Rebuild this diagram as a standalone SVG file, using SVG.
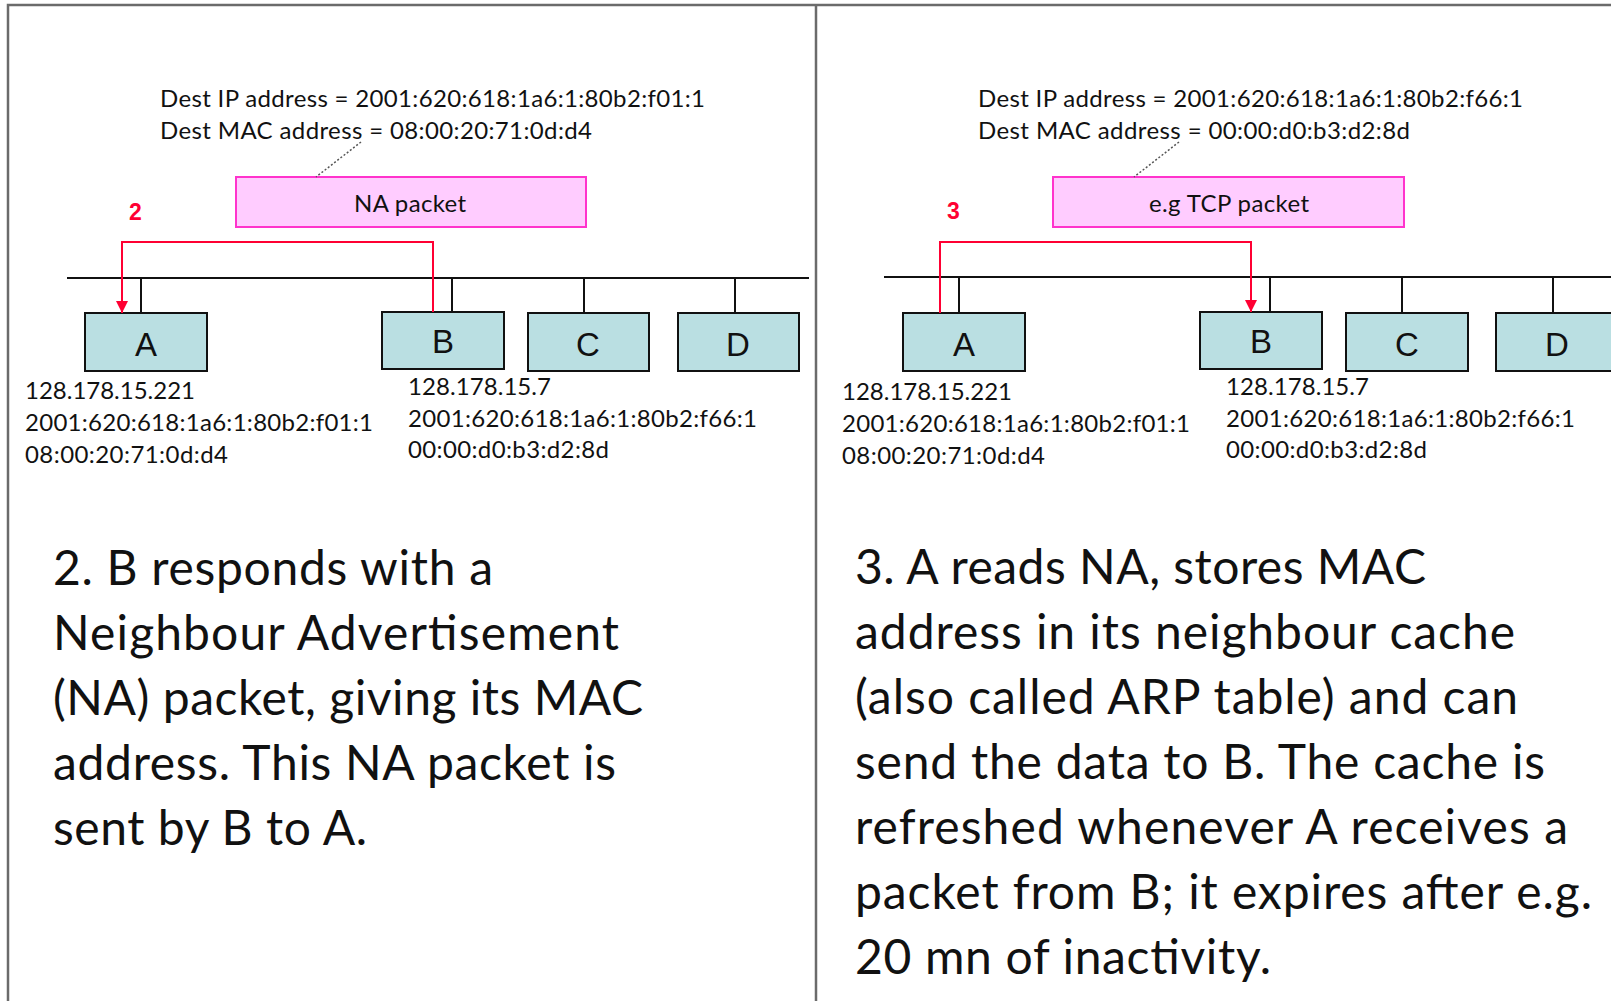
<svg xmlns="http://www.w3.org/2000/svg" width="1611" height="1001" viewBox="0 0 1611 1001">
<style>
.sm{font-family:Lato,"Open Sans","Liberation Sans",sans-serif;font-size:24px;fill:#111}
.big{font-family:Lato,"Open Sans","Liberation Sans",sans-serif;font-size:48px;fill:#111}
.lbl{font-family:"Liberation Sans",Arial,sans-serif;font-size:33px;fill:#111;text-anchor:middle}
.step{font-family:"Liberation Sans",Arial,sans-serif;font-size:23px;font-weight:bold;fill:#FF0033}
.host{fill:#BADFE2;stroke:#111;stroke-width:2}
.pkt{fill:#FFCCFF;stroke:#FF33CC;stroke-width:2}
.bus{stroke:#111;stroke-width:2;fill:none}
.red{stroke:#FF0033;stroke-width:2;fill:none}
.dot{stroke:#555;stroke-width:1.5;stroke-dasharray:2 2;fill:none}
.frame{stroke:#6b6b6b;stroke-width:2.5;fill:none}
</style>
<defs>
<marker id="arr" markerUnits="userSpaceOnUse" markerWidth="12" markerHeight="13" refX="12" refY="6" orient="auto" viewBox="0 0 12 12">
<path d="M0,0 L12,6 L0,12 z" fill="#FF0033"/>
</marker>
</defs>
<rect width="1611" height="1001" fill="#fff"/>
<g id="frame">
<path class="frame" d="M8 1001 V5 H1611"/>
<path class="frame" d="M816 5 V1001"/>
</g>

<!-- Left panel -->
<g id="left-header">
<text class="sm" x="160" y="107" textLength="545">Dest IP address = 2001:620:618:1a6:1:80b2:f01:1</text>
<text class="sm" x="160" y="139" textLength="432">Dest MAC address = 08:00:20:71:0d:d4</text>
</g>
<g id="left-packet">
<rect class="pkt" x="236" y="177" width="350" height="50"/>
<text class="sm" x="410" y="212" text-anchor="middle" textLength="112">NA packet</text>
</g>
<g id="left-step"><text class="step" x="129" y="220">2</text></g>
<g id="left-A">
<rect class="host" x="85" y="313" width="122" height="58"/>
<text class="lbl" x="146" y="356">A</text>
<text class="sm" x="25" y="399" textLength="170">128.178.15.221</text>
<text class="sm" x="25" y="431" textLength="348">2001:620:618:1a6:1:80b2:f01:1</text>
<text class="sm" x="25" y="463" textLength="203">08:00:20:71:0d:d4</text>
</g>
<g id="left-B">
<rect class="host" x="382" y="312" width="122" height="57"/>
<text class="lbl" x="443" y="353">B</text>
<text class="sm" x="408" y="395" textLength="143">128.178.15.7</text>
<text class="sm" x="408" y="427" textLength="349">2001:620:618:1a6:1:80b2:f66:1</text>
<text class="sm" x="408" y="458" textLength="201">00:00:d0:b3:d2:8d</text>
</g>
<g id="left-C">
<rect class="host" x="528" y="313" width="121" height="58"/>
<text class="lbl" x="588" y="356">C</text>
</g>
<g id="left-D">
<rect class="host" x="678" y="313" width="121" height="58"/>
<text class="lbl" x="738" y="356">D</text>
</g>
<g id="left-text">
<text class="big" x="53" y="585" textLength="440">2. B responds with a</text>
<text class="big" x="53" y="650" textLength="566">Neighbour Advertisement</text>
<text class="big" x="53" y="715" textLength="590">(NA) packet, giving its MAC</text>
<text class="big" x="53" y="780" textLength="563">address. This NA packet is</text>
<text class="big" x="53" y="845" textLength="314">sent by B to A.</text>
</g>

<!-- Right panel -->
<g id="right-header">
<text class="sm" x="978" y="107" textLength="545">Dest IP address = 2001:620:618:1a6:1:80b2:f66:1</text>
<text class="sm" x="978" y="139" textLength="432">Dest MAC address = 00:00:d0:b3:d2:8d</text>
</g>
<g id="right-packet">
<rect class="pkt" x="1053" y="177" width="351" height="50"/>
<text class="sm" x="1229" y="212" text-anchor="middle" textLength="160">e.g TCP packet</text>
</g>
<g id="right-step"><text class="step" x="947" y="219">3</text></g>
<g id="right-A">
<rect class="host" x="903" y="313" width="122" height="58"/>
<text class="lbl" x="964" y="356">A</text>
<text class="sm" x="842" y="400" textLength="170">128.178.15.221</text>
<text class="sm" x="842" y="432" textLength="348">2001:620:618:1a6:1:80b2:f01:1</text>
<text class="sm" x="842" y="464" textLength="203">08:00:20:71:0d:d4</text>
</g>
<g id="right-B">
<rect class="host" x="1200" y="312" width="122" height="57"/>
<text class="lbl" x="1261" y="353">B</text>
<text class="sm" x="1226" y="395" textLength="143">128.178.15.7</text>
<text class="sm" x="1226" y="427" textLength="349">2001:620:618:1a6:1:80b2:f66:1</text>
<text class="sm" x="1226" y="458" textLength="201">00:00:d0:b3:d2:8d</text>
</g>
<g id="right-C">
<rect class="host" x="1346" y="313" width="122" height="58"/>
<text class="lbl" x="1407" y="356">C</text>
</g>
<g id="right-D">
<rect class="host" x="1496" y="313" width="122" height="58"/>
<text class="lbl" x="1557" y="356">D</text>
</g>
<g id="right-text">
<text class="big" x="855" y="584" textLength="571">3. A reads NA, stores MAC</text>
<text class="big" x="855" y="649" textLength="660">address in its neighbour cache</text>
<text class="big" x="855" y="714" textLength="663">(also called ARP table) and can</text>
<text class="big" x="855" y="779" textLength="690">send the data to B. The cache is</text>
<text class="big" x="855" y="844" textLength="713">refreshed whenever A receives a</text>
<text class="big" x="855" y="909" textLength="737">packet from B; it expires after e.g.</text>
<text class="big" x="855" y="974" textLength="416">20 mn of inactivity.</text>
</g>

<g id="connectors">
<line class="bus" x1="67" y1="278" x2="809" y2="278"/>
<line class="bus" x1="141" y1="278" x2="141" y2="313"/>
<line class="bus" x1="452" y1="278" x2="452" y2="312"/>
<line class="bus" x1="584" y1="278" x2="584" y2="313"/>
<line class="bus" x1="735" y1="278" x2="735" y2="313"/>
<line class="dot" x1="361" y1="142" x2="316" y2="177"/>
<path class="red" d="M433 312 V242 H122 V313" marker-end="url(#arr)"/>

<line class="bus" x1="884" y1="277" x2="1611" y2="277"/>
<line class="bus" x1="959" y1="277" x2="959" y2="313"/>
<line class="bus" x1="1270" y1="277" x2="1270" y2="312"/>
<line class="bus" x1="1402" y1="277" x2="1402" y2="313"/>
<line class="bus" x1="1553" y1="277" x2="1553" y2="313"/>
<line class="dot" x1="1179" y1="142" x2="1134" y2="177"/>
<path class="red" d="M940 313 V242 H1251 V312" marker-end="url(#arr)"/>
</g>
</svg>
